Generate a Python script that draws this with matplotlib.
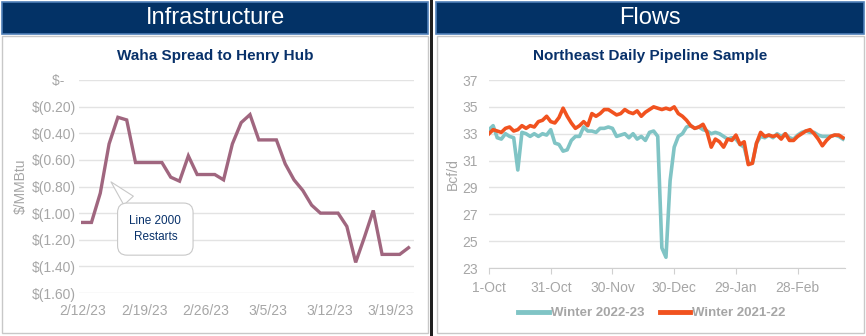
import matplotlib.pyplot as plt
import matplotlib.dates as mdates
from matplotlib.patches import Rectangle
import numpy as np
import pandas as pd

plt.rcParams['font.family'] = ['Liberation Sans', 'DejaVu Sans']

W, H = 866, 336

# Waha spread, daily
waha_start = "2023-02-12"
waha_spread = [-1.07, -1.07, -0.85, -0.48, -0.28, -0.30, -0.62, -0.62, -0.62, -0.62,
               -0.73, -0.76, -0.57, -0.71, -0.71, -0.71, -0.75, -0.48, -0.32, -0.26,
               -0.45, -0.45, -0.45, -0.63, -0.75, -0.83, -0.94, -1.00, -1.00, -1.00,
               -1.10, -1.37, -1.18, -0.98, -1.31, -1.31, -1.31, -1.26]
waha_xticks = ["2023-02-12", "2023-02-19", "2023-02-26", "2023-03-05", "2023-03-12", "2023-03-19"]
waha_xlabels = ["2/12/23", "2/19/23", "2/26/23", "3/5/23", "3/12/23", "3/19/23"]
waha_yticks = [0, -0.2, -0.4, -0.6, -0.8, -1.0, -1.2, -1.4, -1.6]
waha_ylabels = ["$-   ", "$(0.20)", "$(0.40)", "$(0.60)", "$(0.80)", "$(1.00)",
                "$(1.20)", "$(1.40)", "$(1.60)"]

# Northeast pipeline sample, every other day
flow_start = "2022-10-01"
winter_2223 = [33.3, 33.6, 32.7, 32.6, 33.0, 32.8, 32.7, 30.3, 33.1, 33.0,
               32.8, 33.0, 32.8, 33.0, 32.9, 33.3, 32.3, 32.2, 31.7, 31.8,
               32.5, 32.8, 32.8, 33.5, 33.2, 33.2, 33.1, 33.4, 33.4, 33.5,
               33.4, 32.8, 32.9, 33.0, 32.7, 33.0, 32.6, 32.8, 32.5, 33.1,
               33.2, 32.8, 24.5, 23.8, 29.5, 32.0, 32.8, 33.0, 33.5, 33.6,
               33.4, 33.5, 33.3, 33.2, 33.0, 33.1, 33.0, 32.8, 32.6, 32.7,
               32.6, 32.2, 32.0, 30.8, 30.8, 32.3, 32.8, 32.7, 32.9, 32.7,
               33.0, 32.8, 33.0, 32.7, 32.6, 32.9, 33.1, 33.2, 33.1, 33.1,
               32.9, 32.8, 32.8, 32.8, 32.9, 32.8, 32.6]
winter_2122 = [33.0, 33.3, 33.2, 33.1, 33.4, 33.5, 33.2, 33.3, 33.6, 33.4,
               33.6, 33.5, 33.9, 34.0, 34.3, 33.9, 33.8, 34.2, 34.9, 34.3,
               33.8, 33.4, 33.6, 33.9, 33.6, 34.5, 34.3, 34.5, 34.8, 34.8,
               34.6, 34.4, 34.5, 34.8, 34.6, 34.5, 34.7, 34.3, 34.6, 34.8,
               35.0, 34.9, 34.8, 34.9, 34.8, 35.0, 34.5, 34.3, 34.0, 33.6,
               33.4, 33.5, 33.7, 33.1, 32.0, 32.6, 32.4, 32.0, 32.6, 32.5,
               32.9, 32.2, 32.4, 30.7, 30.8, 32.3, 33.1, 32.8, 32.9, 32.8,
               32.9, 32.6, 33.0, 32.5, 32.5, 32.8, 33.0, 33.2, 33.3, 33.0,
               32.6, 32.1, 32.5, 32.8, 32.9, 32.9, 32.7]
flow_xticks = ["2022-10-01", "2022-10-31", "2022-11-30", "2022-12-30", "2023-01-29", "2023-02-28"]
flow_xlabels = ["1-Oct", "31-Oct", "30-Nov", "30-Dec", "29-Jan", "28-Feb"]
flow_yticks = [23, 25, 27, 29, 31, 33, 35, 37]

navy = '#08316A'
grey = '#A6A6A6'
grid = '#E3E3E3'

fig = plt.figure(figsize=(W / 100, H / 100), dpi=100)


def box(x0, y0, x1, y1, **kw):
    fig.patches.append(Rectangle((x0 / W, 1 - y1 / H), (x1 - x0) / W, (y1 - y0) / H,
                                 transform=fig.transFigure, zorder=-1, **kw))


def axes_px(x0, y0, x1, y1):
    return fig.add_axes([x0 / W, 1 - y1 / H, (x1 - x0) / W, (y1 - y0) / H])


# panels and headers
box(2, 36, 428, 333, facecolor='white', edgecolor='#C8C8C8', lw=1)
box(437, 36, 864, 333, facecolor='white', edgecolor='#C8C8C8', lw=1)
box(2, 2, 428, 34, facecolor='#033266', edgecolor='#4F7FB8', lw=1.2)
box(436, 2, 864, 34, facecolor='#033266', edgecolor='#4F7FB8', lw=1.2)
box(429.5, 0, 432.5, 336, facecolor='#202020', edgecolor='none')
fig.text(215 / W, 1 - 18 / H, "Infrastructure", color='white', fontsize=17,
         ha='center', va='center')
fig.text(650 / W, 1 - 18 / H, "Flows", color='white', fontsize=17,
         ha='center', va='center')
fig.text(215 / W, 1 - 56 / H, "Waha Spread to Henry Hub", color=navy, fontsize=11,
         fontweight='bold', ha='center', va='center')
fig.text(650 / W, 1 - 56 / H, "Northeast Daily Pipeline Sample", color=navy, fontsize=11,
         fontweight='bold', ha='center', va='center')

# left chart
ax1 = axes_px(79, 80, 414, 293)
waha_dates = pd.date_range(waha_start, periods=len(waha_spread), freq='D')
ax1.plot(waha_dates, waha_spread, color='#A0667F', lw=2.4, solid_joinstyle='miter')
ax1.set_ylim(-1.6, 0)
ax1.set_yticks(waha_yticks)
ax1.set_yticklabels([s.replace('$', r'\$') for s in waha_ylabels])
ax1.set_xticks(pd.to_datetime(waha_xticks))
ax1.set_xticklabels(waha_xlabels)
ax1.set_xlim(pd.Timestamp("2023-02-11 14:00"), pd.Timestamp("2023-03-21 15:00"))
ax1.grid(axis='y', color=grid, lw=1)
ax1.set_axisbelow(True)
for s in ax1.spines.values():
    s.set_visible(False)
ax1.tick_params(length=0, colors=grey, labelsize=10)
ax1.tick_params(axis='y', pad=2)
ax1.tick_params(axis='x', pad=8)
ax1.set_ylabel(r"\$/MMBtu", color=grey, fontsize=10, labelpad=3)

ax1.annotate("Line 2000\nRestarts",
             xy=(mdates.date2num(pd.Timestamp("2023-02-15")), -0.75),
             xytext=(mdates.date2num(pd.Timestamp("2023-02-20 06:00")), -1.12),
             color=navy, fontsize=8.5, ha='center', va='center', linespacing=1.5,
             bbox=dict(boxstyle='round,pad=1.0,rounding_size=0.8', fc='white', ec='#C8C8C8', lw=0.8),
             arrowprops=dict(arrowstyle='wedge,tail_width=1.1,shrink_factor=0.5',
                             fc='white', ec='#C8C8C8', lw=0.8))

# right chart
ax2 = axes_px(489, 80, 845, 268)
flow_dates = pd.date_range(flow_start, periods=len(winter_2223), freq='2D')
ax2.plot(flow_dates, winter_2223, color='#80C4C5', lw=2.6, label='Winter 2022-23')
ax2.plot(flow_dates, winter_2122, color='#F1521F', lw=2.6, label='Winter 2021-22')
ax2.set_ylim(23, 37)
ax2.set_yticks(flow_yticks)
ax2.set_xticks(pd.to_datetime(flow_xticks))
ax2.set_xticklabels(flow_xlabels)
ax2.set_xlim(pd.Timestamp(flow_start), pd.Timestamp("2023-03-23"))
ax2.grid(axis='y', color=grid, lw=1)
ax2.set_axisbelow(True)
for k in ['top', 'right', 'left']:
    ax2.spines[k].set_visible(False)
ax2.spines['bottom'].set_color('#D0D0D0')
ax2.tick_params(axis='y', length=0, colors=grey, labelsize=10, pad=8)
ax2.tick_params(axis='x', length=4, color='#D0D0D0', labelcolor=grey, labelsize=10, pad=5)
ax2.set_ylabel("Bcf/d", color=grey, fontsize=10, labelpad=2)

leg = fig.legend(loc='center', bbox_to_anchor=(652 / W, 1 - 313 / H), ncol=2, frameon=False,
                 fontsize=9.5, handlelength=2.3, columnspacing=1.2, handletextpad=0.15)
for t in leg.get_texts():
    t.set_color(grey)
    t.set_fontweight('bold')
for l in leg.get_lines():
    l.set_linewidth(3.5)

fig.savefig("out.png", dpi=100)
